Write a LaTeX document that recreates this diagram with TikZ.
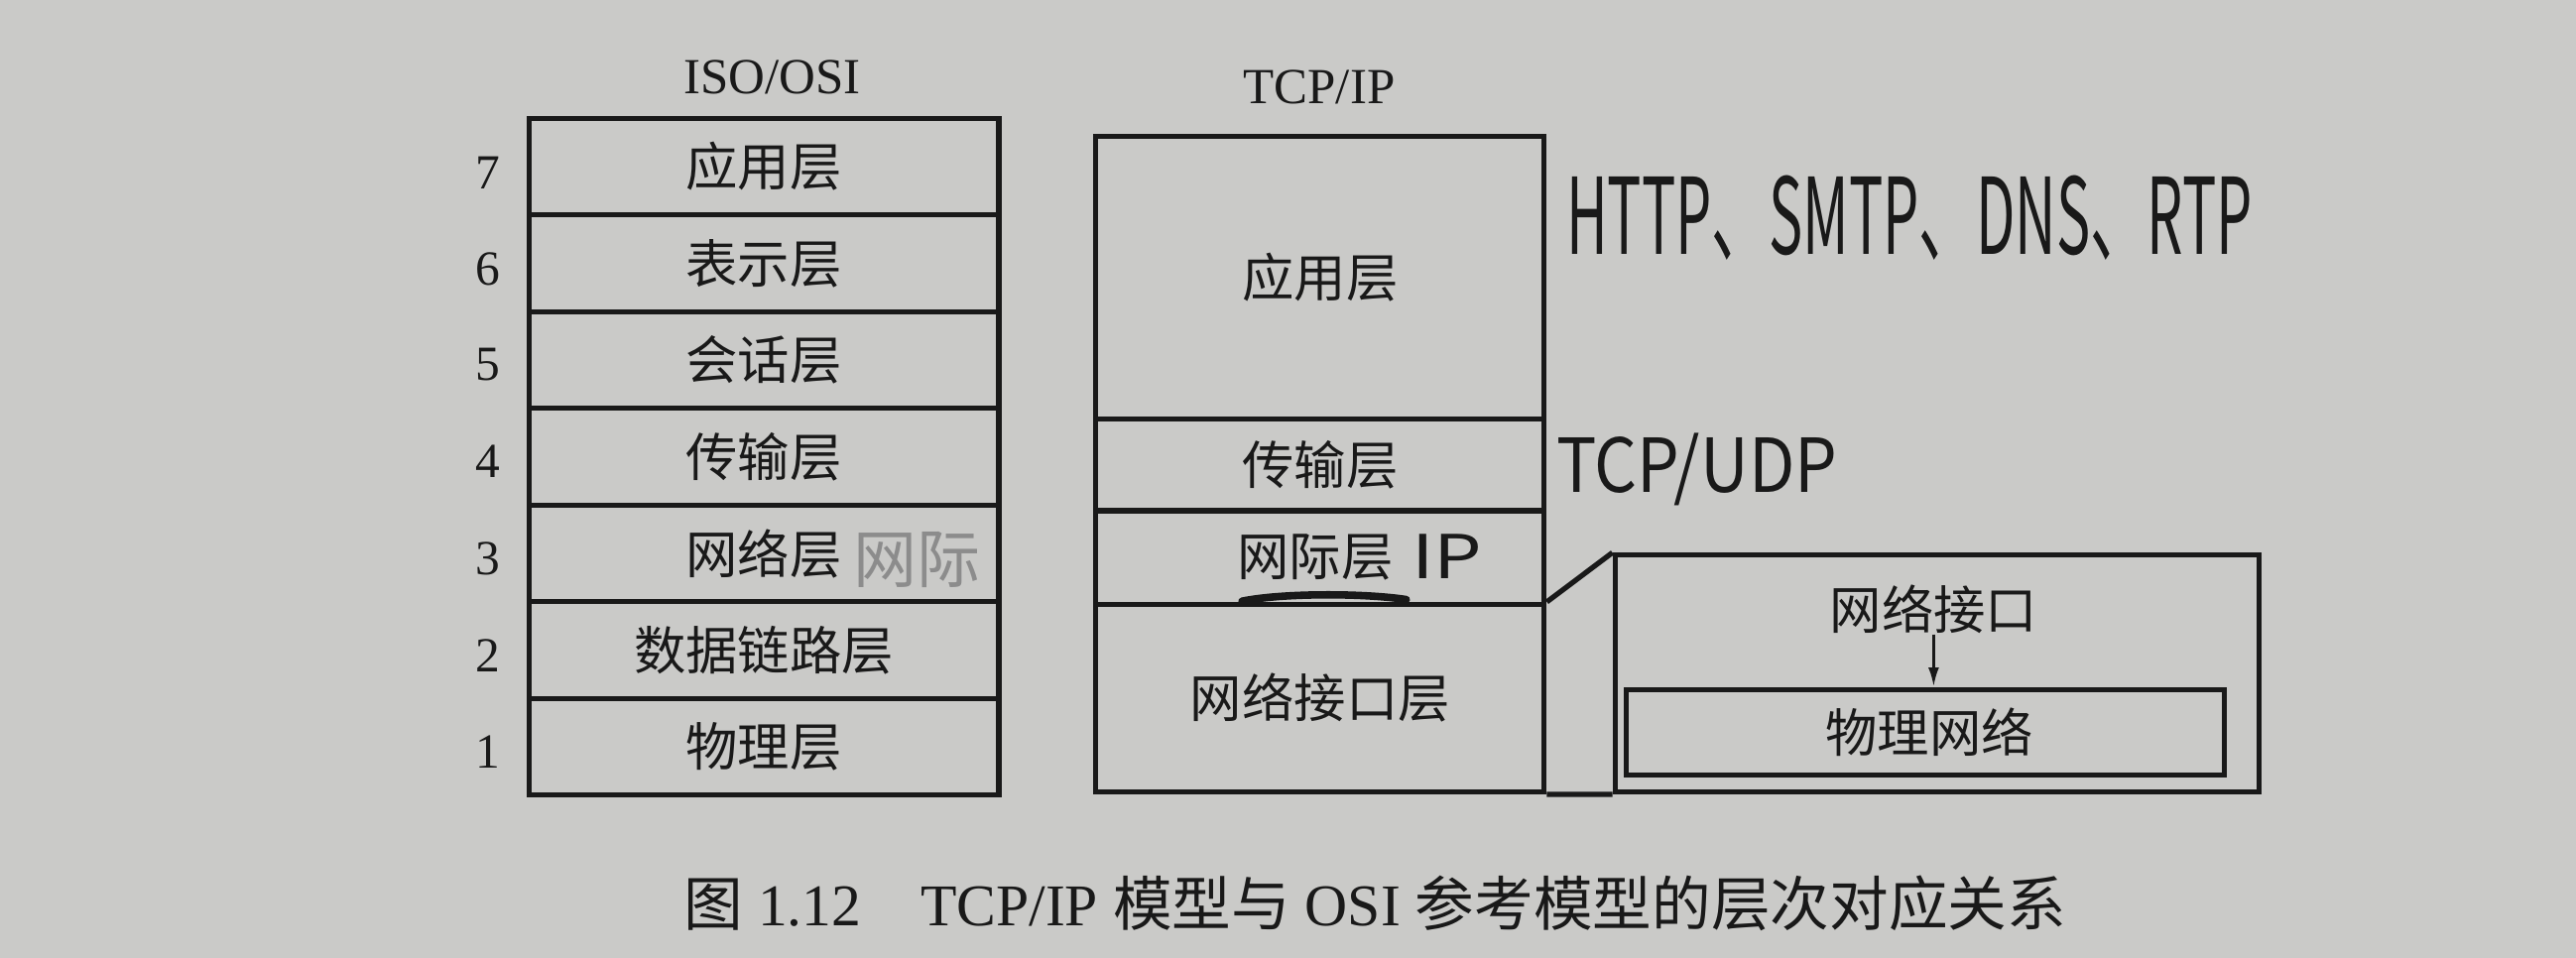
\documentclass[tikz,border=0pt]{standalone}
\usepackage{fontspec}
\setmainfont{Liberation Serif}
\newfontfamily\cjk{Noto Sans CJK SC}
\usetikzlibrary{arrows.meta}
\definecolor{paper}{RGB}{202,202,200}
\definecolor{ink}{RGB}{25,25,25}
\definecolor{pencil}{RGB}{140,140,140}
\begin{document}
\begin{tikzpicture}[x=0.02cm,y=-0.02cm,
  box/.style={draw=ink, line width=1.8pt, rectangle, inner sep=0pt, text=ink,
    font=\cjk\fontsize{18}{20}\selectfont},
  osi/.style={box, minimum width=5.72cm, minimum height=1.1771cm},
  tcp/.style={box, minimum width=5.46cm},
  num/.style={inner sep=0pt, text=ink, font=\fontsize{17}{19}\selectfont},
  title/.style={inner sep=0pt, text=ink, font=\fontsize{17.5}{19}\selectfont},
  plain/.style={inner sep=0pt, text=ink, font=\cjk\fontsize{18}{20}\selectfont},
  hand/.style={inner sep=0pt, text=ink, anchor=base west, font=\cjk},
  pencilnote/.style={inner sep=0pt, text=pencil, font=\cjk\fontsize{22}{24}\selectfont},
  link/.style={draw=ink, line width=1.8pt},
  arrowline/.style={draw=ink, line width=1.1pt, -{Latex[length=2.4mm,width=1.3mm]}}
]
\fill[paper] (0,0) rectangle (1568,583);
\useasboundingbox (0,0) rectangle (1568,583);

% titles
\node[title] (tosi) at (470,47) {ISO/OSI};
\node[title] (ttcp) at (803,53) {TCP/IP};

% OSI stack
\node[osi] (o7) at (465,101.4) {应用层};
\node[osi] (o6) at (465,160.3) {表示层};
\node[osi] (o5) at (465,219.2) {会话层};
\node[osi] (o4) at (465,278.0) {传输层};
\node[osi] (o3) at (465,336.9) {网络层};
\node[osi] (o2) at (465,395.7) {数据链路层};
\node[osi] (o1) at (465,454.6) {物理层};

\node[num] (n7) at (297,105) {7};
\node[num] (n6) at (297,164) {6};
\node[num] (n5) at (297,222) {5};
\node[num] (n4) at (297,281) {4};
\node[num] (n3) at (297,340) {3};
\node[num] (n2) at (297,399) {2};
\node[num] (n1) at (297,458) {1};

% TCP/IP stack
\node[tcp, minimum height=3.44cm] (app) at (803.5,169) {应用层};
\node[tcp, minimum height=1.12cm] (trans) at (803.5,283) {传输层};
\node[tcp, minimum height=1.14cm] (inet) at (803.5,339.5) {\hspace*{-0.12cm}网际层};
\node[tcp, minimum height=2.28cm] (netif) at (803.5,425) {网络接口层};

% network interface detail
\node[box, minimum width=7.84cm, minimum height=2.88cm] (ni) at (1179,410) {};
\node[box, minimum width=7.28cm, minimum height=1.04cm] (phy) at (1172,446) {\hspace*{0.1cm}物理网络};
\node[plain] (nilab) at (1177,371) {网络接口};
\draw[link] (netif.north east) -- (ni.north west);
\draw[link] (netif.south east) -- (ni.south west);
\draw[arrowline] (nilab.south) -- (nilab.south |- phy.north);

% handwritten notes
\node[hand] (hw1) at (953,155) {\resizebox{8.36cm}{0.96cm}{HTTP、SMTP、DNS、RTP}};
\node[hand] (hw2) at (947,300) {\resizebox{3.42cm}{0.72cm}{TCP/UDP}};
\node[hand] (hw3) at (859,352) {\resizebox{0.86cm}{0.54cm}{IP}};
\draw[ink, line width=2.6pt, line cap=round] (756,366) .. controls (780,361) and (830,361) .. (856,365);
\node[pencilnote] (pn) at (558,341) {网际};

% caption
\node[inner sep=0pt, text=ink, font=\fontsize{20.5}{22}\selectfont] (cap) at (837,550)
  {{\cjk 图} 1.12\quad TCP/IP {\cjk 模型与} OSI {\cjk 参考模型的层次对应关系}};
\end{tikzpicture}
\end{document}
